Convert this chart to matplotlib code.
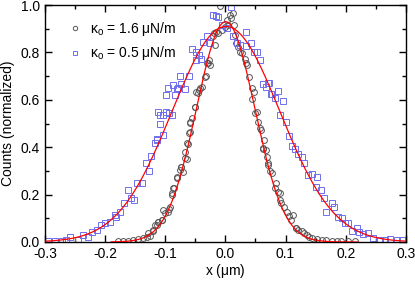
import numpy as np
import matplotlib.pyplot as plt
from matplotlib.ticker import MultipleLocator

plt.rcParams['font.family'] = ['Liberation Sans', 'DejaVu Sans']
plt.rcParams['mathtext.fontset'] = 'custom'
plt.rcParams['mathtext.rm'] = 'Liberation Sans'
plt.rcParams['mathtext.it'] = 'Liberation Sans:italic'

# kappa_o = 1.6 uN/m (circles)
xStiff = [-0.178, -0.170, -0.162, -0.153, -0.145, -0.137, -0.131, -0.128, -0.125, -0.120,
          -0.120, -0.117, -0.114, -0.112, -0.112, -0.106, -0.106, -0.103, -0.100, -0.095,
          -0.093, -0.092, -0.089, -0.089, -0.087, -0.086, -0.081, -0.081, -0.076, -0.073,
          -0.073, -0.071, -0.067, -0.067, -0.064, -0.064, -0.062, -0.060, -0.059, -0.059,
          -0.058, -0.055, -0.051, -0.051, -0.048, -0.046, -0.044, -0.042, -0.039, -0.034,
          -0.032, -0.031, -0.029, -0.027, -0.026, -0.021, -0.019, -0.017, -0.015, -0.012,
          -0.009, -0.006, -0.001, 0.002, 0.005, 0.007, 0.009, 0.012, 0.014, 0.016,
          0.017, 0.021, 0.024, 0.027, 0.032, 0.034, 0.036, 0.040, 0.044, 0.045,
          0.047, 0.050, 0.052, 0.055, 0.057, 0.060, 0.063, 0.063, 0.065, 0.067,
          0.069, 0.071, 0.071, 0.074, 0.077, 0.082, 0.085, 0.087, 0.090, 0.091,
          0.093, 0.097, 0.103, 0.106, 0.109, 0.113, 0.117, 0.118, 0.121, 0.127,
          0.131, 0.135, 0.139, 0.144, 0.152, 0.160, 0.168, 0.177, 0.185, 0.193,
          0.204, 0.215]
yStiff = [0.004, 0.004, 0.005, 0.008, 0.011, 0.016, 0.022, 0.037, 0.025, 0.051,
          0.048, 0.072, 0.072, 0.086, 0.086, 0.093, 0.093, 0.135, 0.124, 0.128,
          0.138, 0.149, 0.205, 0.198, 0.227, 0.227, 0.269, 0.273, 0.304, 0.318,
          0.315, 0.297, 0.381, 0.353, 0.350, 0.416, 0.413, 0.459, 0.508, 0.465,
          0.503, 0.522, 0.571, 0.568, 0.634, 0.627, 0.641, 0.649, 0.653, 0.698,
          0.700, 0.757, 0.757, 0.768, 0.747, 0.869, 0.881, 0.831, 0.887, 0.881,
          0.996, 0.895, 0.906, 0.937, 0.916, 0.958, 0.944, 0.968, 0.916, 0.873,
          0.838, 0.824, 0.803, 0.796, 0.771, 0.754, 0.747, 0.695, 0.649, 0.602,
          0.634, 0.543, 0.550, 0.508, 0.480, 0.473, 0.391, 0.395, 0.430, 0.388,
          0.360, 0.332, 0.325, 0.301, 0.292, 0.227, 0.250, 0.212, 0.205, 0.177,
          0.166, 0.149, 0.128, 0.110, 0.093, 0.114, 0.058, 0.058, 0.051, 0.048,
          0.039, 0.030, 0.020, 0.016, 0.011, 0.008, 0.007, 0.005, 0.005, 0.005,
          0.005, 0.005]

# kappa_o = 0.5 uN/m (squares)
xSoft = [-0.295, -0.283, -0.272, -0.264, -0.258, -0.245, -0.236, -0.229, -0.222, -0.214,
         -0.206, -0.200, -0.192, -0.184, -0.181, -0.175, -0.169, -0.162, -0.157, -0.152,
         -0.146, -0.139, -0.132, -0.127, -0.123, -0.117, -0.114, -0.113, -0.112, -0.109,
         -0.109, -0.103, -0.103, -0.099, -0.098, -0.095, -0.093, -0.089, -0.087, -0.084,
         -0.081, -0.078, -0.076, -0.074, -0.067, -0.060, -0.055, -0.049, -0.048, -0.044,
         -0.040, -0.037, -0.031, -0.026, -0.020, -0.016, -0.012, -0.006, 0.002, 0.009,
         0.013, 0.019, 0.024, 0.034, 0.035, 0.042, 0.047, 0.053, 0.057, 0.063,
         0.067, 0.071, 0.072, 0.076, 0.077, 0.082, 0.087, 0.091, 0.096, 0.100,
         0.106, 0.111, 0.116, 0.121, 0.127, 0.130, 0.138, 0.144, 0.150, 0.153,
         0.159, 0.164, 0.168, 0.177, 0.181, 0.188, 0.194, 0.199, 0.204, 0.211,
         0.219, 0.222, 0.229, 0.237, 0.246, 0.257, 0.265, 0.273, 0.285, 0.293]
ySoft = [0.004, 0.004, 0.004, 0.008, 0.020, 0.008, 0.030, 0.022, 0.043, 0.051,
         0.072, 0.079, 0.086, 0.114, 0.104, 0.128, 0.163, 0.220, 0.184, 0.177,
         0.250, 0.250, 0.335, 0.300, 0.363, 0.416, 0.433, 0.430, 0.550, 0.498,
         0.536, 0.451, 0.536, 0.620, 0.547, 0.649, 0.543, 0.536, 0.662, 0.620,
         0.644, 0.649, 0.700, 0.667, 0.646, 0.700, 0.813, 0.803, 0.768, 0.789,
         0.771, 0.845, 0.869, 0.838, 0.958, 0.954, 0.951, 0.916, 0.902, 0.993,
         0.869, 0.838, 0.831, 0.887, 0.827, 0.841, 0.803, 0.803, 0.768, 0.667,
         0.653, 0.672, 0.670, 0.624, 0.624, 0.606, 0.638, 0.536, 0.595, 0.508,
         0.447, 0.405, 0.391, 0.371, 0.357, 0.335, 0.283, 0.287, 0.233, 0.273,
         0.219, 0.184, 0.128, 0.163, 0.149, 0.104, 0.100, 0.079, 0.079, 0.048,
         0.058, 0.043, 0.034, 0.037, 0.016, 0.008, 0.008, 0.011, 0.008, 0.008]

# Gaussian fits: amplitude, centre, sigma
fitStiff = (0.930, 0.0005, 0.0485)
fitSoft = (0.910, 0.0010, 0.0895)

fig = plt.figure(figsize=(4.15, 2.84), dpi=100)
ax = fig.add_axes([0.108, 0.148, 0.870, 0.834])

xf = np.linspace(-0.3, 0.3, 600)
for a, c, s, lo, hi in [(*fitStiff, -0.19, 0.22), (*fitSoft, -0.3, 0.3)]:
    m = (xf >= lo) & (xf <= hi)
    ax.plot(xf[m], a * np.exp(-(xf[m] - c) ** 2 / (2 * s ** 2)), color="red", lw=0.9, zorder=3)

ax.plot(xStiff, yStiff, "o", mfc="none", mec="#555555", ms=4.2, mew=0.7,
        label=r"$\mathregular{\kappa}_\mathregular{o}$ = 1.6 $\mathregular{\mu}$N/m")
ax.plot(xSoft, ySoft, "s", mfc="none", mec="#6f6fee", ms=3.8, mew=0.7,
        label=r"$\mathregular{\kappa}_\mathregular{o}$ = 0.5 $\mathregular{\mu}$N/m")

ax.set_xlim(-0.3, 0.3)
ax.set_ylim(0, 1.0)
ax.xaxis.set_major_locator(MultipleLocator(0.1))
ax.xaxis.set_minor_locator(MultipleLocator(0.05))
ax.yaxis.set_major_locator(MultipleLocator(0.2))
ax.yaxis.set_minor_locator(MultipleLocator(0.1))
ax.xaxis.set_major_formatter(lambda v, p: f"{v:.1f}".replace("-0.0", "0.0"))
ax.yaxis.set_major_formatter(lambda v, p: f"{v:.1f}")
ax.tick_params(which="both", direction="in", top=True, right=True, labelsize=10, width=1)
ax.tick_params(which="major", length=5)
ax.tick_params(which="minor", length=3)
for sp in ax.spines.values():
    sp.set_linewidth(1)

ax.set_xlabel(r"x ($\mathregular{\mu}$m)", fontsize=10, labelpad=1)
ax.set_ylabel("Counts (normalized)", fontsize=10, labelpad=4)

ax.legend(loc="upper left", frameon=False, fontsize=10, handletextpad=0.5, markerscale=0.75,
          borderaxespad=0.0, labelspacing=0.45, handlelength=1.2, bbox_to_anchor=(0.045, 0.96))

fig.savefig("out.png", dpi=100)
